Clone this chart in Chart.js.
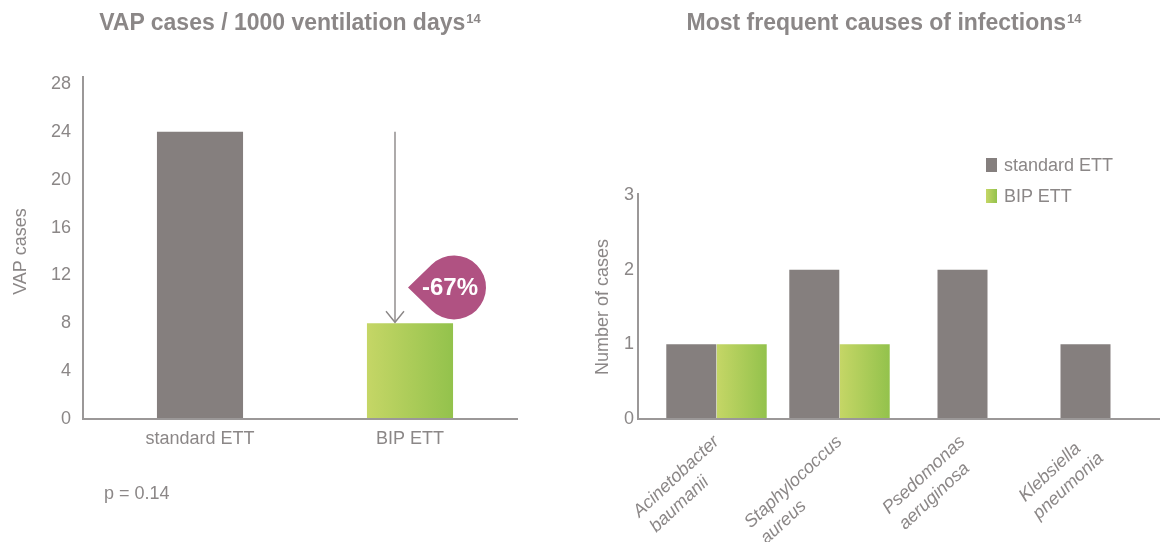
<!DOCTYPE html>
<html>
<head>
<meta charset="utf-8">
<script src="https://cdn.jsdelivr.net/npm/chart.js@4"></script>
<style>
html,body{margin:0;padding:0;background:#fff;overflow:hidden;}
body{width:1160px;height:542px;position:relative;font-family:"Liberation Sans",Arial,Helvetica,sans-serif;color:#8b8787;}
canvas{position:absolute;top:0;}
#c1{left:0;}
#c2{left:580px;}
.title{position:absolute;top:7px;line-height:30px;font-size:23px;font-weight:bold;white-space:nowrap;transform:translateX(-50%);}
.title sup{font-size:13px;vertical-align:top;position:relative;top:-3px;margin-left:1px;}
.note{position:absolute;left:104px;top:483px;line-height:20px;font-size:18px;}
.lg{position:absolute;left:986px;font-size:18px;line-height:20px;white-space:nowrap;}
.lg .sw{position:absolute;left:0;top:3px;width:11px;height:14px;}
.lg .tx{position:absolute;left:18px;top:0;}
</style>
</head>
<body>
<canvas id="c1" width="580" height="542"></canvas>
<canvas id="c2" width="580" height="542"></canvas>
<script>
// ---- data ----
const leftTitle = 'VAP cases / 1000 ventilation days';
const rightTitle = 'Most frequent causes of infections';
const titleRef = '14';
const leftCategories = ['standard ETT', 'BIP ETT'];
const leftValues = [24, 8];
const leftYTicks = [0, 4, 8, 12, 16, 20, 24, 28];
const leftYTitle = 'VAP cases';
const reductionLabel = '-67%';
const reductionBadgeValue = 11;
const pValueText = 'p = 0.14';

const rightCategories = [
  ['Acinetobacter', 'baumanii'],
  ['Staphylococcus', 'aureus'],
  ['Psedomonas', 'aeruginosa'],
  ['Klebsiella', 'pneumonia']
];
const seriesNames = ['standard ETT', 'BIP ETT'];
const standardValues = [1, 2, 2, 1];
const bipValues = [1, 1, null, null];
const rightYTicks = [0, 1, 2, 3];
const rightYTitle = 'Number of cases';

// ---- styles ----
const TEXT = '#8b8787';
const AXIS = '#9b9898';
const GRAY = '#857f7e';
const GREEN_L = '#c5d666';
const GREEN_R = '#93c24c';
const MAGENTA = '#b05282';
const FONT = "'Liberation Sans', Arial, Helvetica, sans-serif";

Chart.defaults.font.family = FONT;
Chart.defaults.font.size = 18;
Chart.defaults.color = TEXT;

// titles, note, legend as text
function addTitle(text, center) {
  const d = document.createElement('div');
  d.className = 'title';
  d.style.left = center + 'px';
  d.textContent = text;
  const s = document.createElement('sup');
  s.textContent = titleRef;
  d.appendChild(s);
  document.body.appendChild(d);
}
addTitle(leftTitle, 290);
addTitle(rightTitle, 884);
const note = document.createElement('div');
note.className = 'note';
note.textContent = pValueText;
document.body.appendChild(note);
seriesNames.forEach((name, i) => {
  const d = document.createElement('div');
  d.className = 'lg';
  d.style.top = (155 + i * 31) + 'px';
  const sw = document.createElement('span');
  sw.className = 'sw';
  sw.style.background = i === 0 ? GRAY : `linear-gradient(to right, ${GREEN_L}, ${GREEN_R})`;
  const tx = document.createElement('span');
  tx.className = 'tx';
  tx.textContent = name;
  d.appendChild(sw); d.appendChild(tx);
  document.body.appendChild(d);
});

function greenFill(ctx) {
  const chart = ctx.chart;
  const meta = chart.getDatasetMeta(ctx.datasetIndex);
  const el = meta && meta.data[ctx.dataIndex];
  if (!el || !isFinite(el.x) || !el.width) return GREEN_R;
  const g = chart.ctx.createLinearGradient(el.x - el.width / 2, 0, el.x + el.width / 2, 0);
  g.addColorStop(0, GREEN_L);
  g.addColorStop(1, GREEN_R);
  return g;
}

const axisLines = {
  id: 'axisLines',
  afterDatasetsDraw(chart, args, opts) {
    const {left, right, top, bottom} = chart.chartArea;
    const ctx = chart.ctx;
    const x0 = left - opts.gapLeft;
    ctx.save();
    ctx.strokeStyle = AXIS;
    ctx.lineWidth = 2;
    ctx.beginPath();
    ctx.moveTo(x0, top - opts.overTop);
    ctx.lineTo(x0, bottom);
    ctx.lineTo(right + opts.extendRight, bottom);
    ctx.stroke();
    ctx.restore();
  }
};

const dropPlugin = {
  id: 'drop',
  afterDatasetsDraw(chart) {
    const bar = chart.getDatasetMeta(0).data[1];
    const ys = chart.scales.y;
    const ctx = chart.ctx;
    const xa = bar.x - 15;
    const yTop = ys.getPixelForValue(leftValues[0]);
    const yBot = ys.getPixelForValue(leftValues[1]);
    ctx.save();
    ctx.strokeStyle = TEXT;
    ctx.lineWidth = 1.4;
    ctx.beginPath();
    ctx.moveTo(xa, yTop);
    ctx.lineTo(xa, yBot - 1);
    ctx.stroke();
    ctx.beginPath();
    ctx.moveTo(xa - 9, yBot - 12);
    ctx.lineTo(xa, yBot - 1);
    ctx.lineTo(xa + 9, yBot - 12);
    ctx.stroke();
    // teardrop badge
    const r = 32;
    const cx = bar.x + 44;
    const cy = ys.getPixelForValue(reductionBadgeValue);
    const px = cx - 46, py = cy;
    const a = Math.acos(r / (cx - px));
    ctx.fillStyle = MAGENTA;
    ctx.beginPath();
    ctx.moveTo(px, py);
    ctx.arc(cx, cy, r, Math.PI + a, Math.PI - a);
    ctx.closePath();
    ctx.fill();
    ctx.fillStyle = '#ffffff';
    ctx.font = 'bold 24px ' + FONT;
    ctx.textAlign = 'center';
    ctx.textBaseline = 'middle';
    ctx.fillText(reductionLabel, cx - 4, cy + 1);
    ctx.restore();
  }
};

// ---- left chart ----
const leftChart = new Chart(document.getElementById('c1'), {
  type: 'bar',
  data: {
    labels: leftCategories,
    datasets: [{
      data: leftValues,
      backgroundColor: ctx => ctx.dataIndex === 1 ? greenFill(ctx) : GRAY,
      barPercentage: 0.41,
      categoryPercentage: 1
    }]
  },
  options: {
    responsive: false,
    animation: false,
    events: [],
    layout: {padding: {left: 0, top: 84, right: 65, bottom: 83}},
    plugins: {
      legend: {display: false},
      tooltip: {enabled: false},
      axisLines: {gapLeft: 12, overTop: 8, extendRight: 3}
    },
    scales: {
      x: {
        grid: {display: false, drawTicks: false},
        border: {display: false},
        ticks: {padding: 9, font: {size: 18}},
        afterFit: s => { s.height = 40; s.paddingLeft = 0; s.paddingRight = 0; }
      },
      y: {
        min: 0, max: 28,
        grid: {display: false, drawTicks: false},
        border: {display: false},
        ticks: {padding: 24, font: {size: 18}},
        afterBuildTicks: s => { s.ticks = leftYTicks.map(v => ({value: v})); },
        title: {display: true, text: leftYTitle, font: {size: 18}, padding: {top: 10, bottom: 0}},
        afterFit: s => { s.width = 95; }
      }
    }
  },
  plugins: [axisLines, dropPlugin]
});
leftChart.update('none');

// ---- right chart ----
// rotated labels: lines share a common start (left-aligned block)
const measureCtx = document.createElement('canvas').getContext('2d');
function leftAlignedLines(value, index) {
  const lines = rightCategories[index];
  measureCtx.font = 'italic 18px ' + FONT;
  const widths = lines.map(l => measureCtx.measureText(l).width);
  const max = Math.max(...widths);
  const sp = measureCtx.measureText(' ').width;
  return lines.map((l, i) => l + ' '.repeat(Math.round((max - widths[i]) / sp)));
}

const rightChart = new Chart(document.getElementById('c2'), {
  type: 'bar',
  data: {
    labels: rightCategories,
    datasets: [
      {label: seriesNames[0], data: standardValues, backgroundColor: GRAY},
      {label: seriesNames[1], data: bipValues, backgroundColor: greenFill}
    ]
  },
  options: {
    responsive: false,
    animation: false,
    events: [],
    skipNull: true,
    datasets: {bar: {skipNull: true, categoryPercentage: 0.82, barPercentage: 1, maxBarThickness: 50}},
    layout: {padding: {left: 0, top: 195, right: 13, bottom: 0}},
    plugins: {
      legend: {display: false},
      tooltip: {enabled: false},
      axisLines: {gapLeft: 17, overTop: 2, extendRight: 13}
    },
    scales: {
      x: {
        grid: {display: false, drawTicks: false},
        border: {display: false},
        ticks: {autoSkip: false, minRotation: 43, maxRotation: 43, padding: 12,
                font: {size: 18, style: 'italic', lineHeight: 1.25}, callback: leftAlignedLines},
        afterFit: s => { s.height = 123; s.paddingLeft = 0; s.paddingRight = 0; }
      },
      y: {
        min: 0, max: 3,
        grid: {display: false, drawTicks: false},
        border: {display: false},
        ticks: {padding: 21, font: {size: 18}},
        afterBuildTicks: s => { s.ticks = rightYTicks.map(v => ({value: v})); },
        title: {display: true, text: rightYTitle, font: {size: 18}, padding: {top: 12, bottom: 0}},
        afterFit: s => { s.width = 75; }
      }
    }
  },
  plugins: [axisLines]
});
rightChart.update('none');
</script>
</body>
</html>
